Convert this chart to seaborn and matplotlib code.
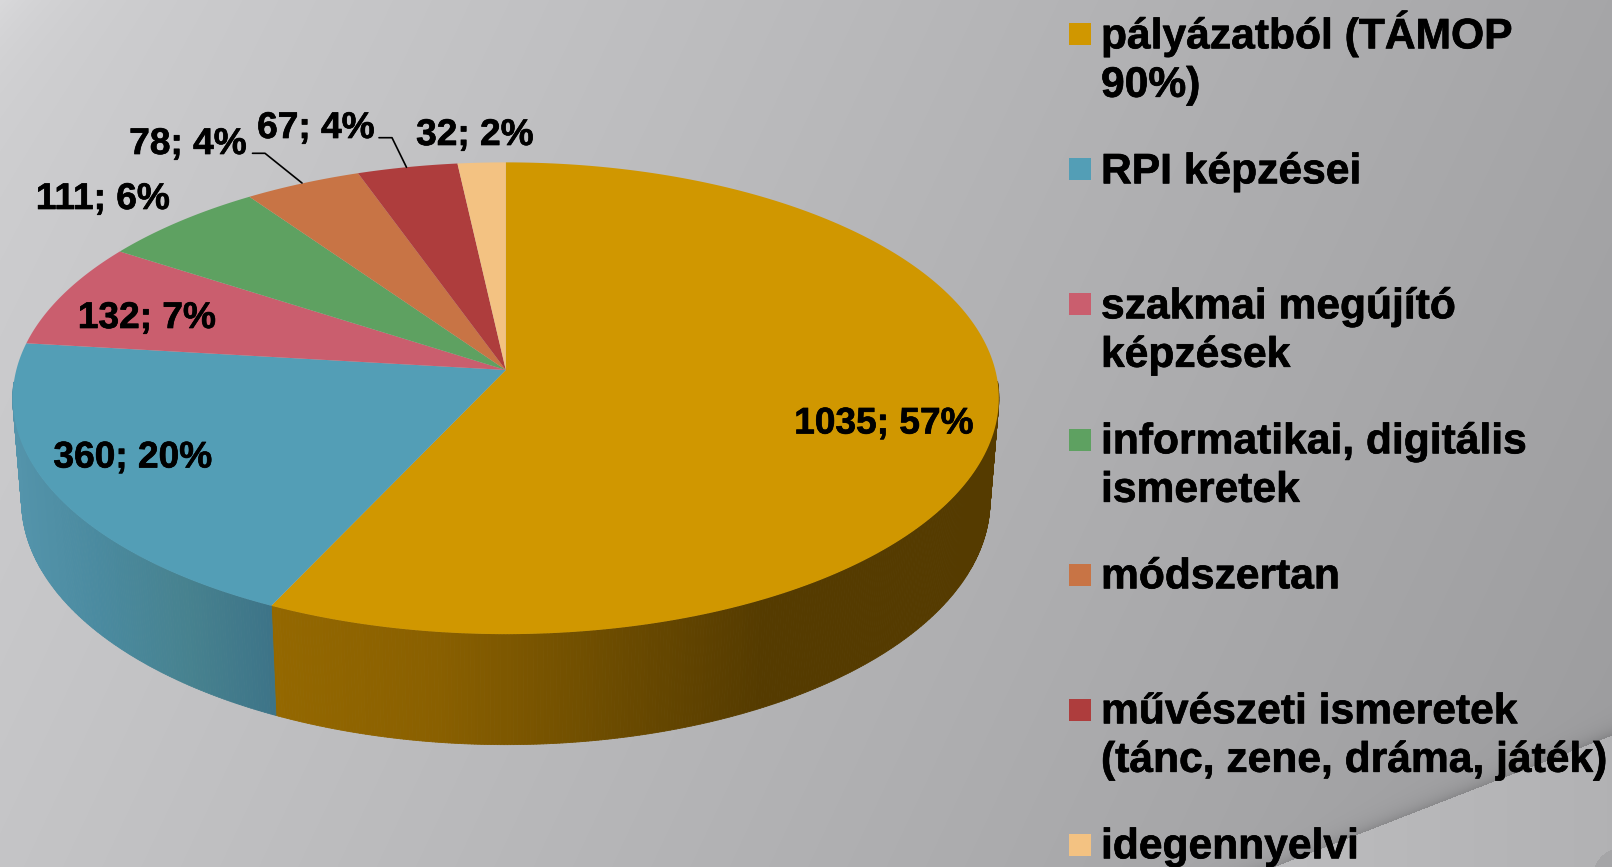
import numpy as np
import matplotlib
matplotlib.use("Agg")
import matplotlib.pyplot as plt
import matplotlib.patheffects as pe
import seaborn as sns
from matplotlib.collections import PolyCollection
from matplotlib.colors import LinearSegmentedColormap

categories = ["pályázatból (TÁMOP\n90%)", "RPI képzései", "szakmai megújító\nképzések",
              "informatikai, digitális\nismeretek", "módszertan",
              "művészeti ismeretek\n(tánc, zene, dráma, játék)", "idegennyelvi"]
values = [1035, 360, 132, 111, 78, 67, 32]
percents = [57, 20, 7, 6, 4, 4, 2]
colors = ["#D09700", "#539EB6", "#CA5E6E", "#5EA161", "#C87445", "#AE3D3D", "#F3C282"]

sns.set_theme(style="white")
plt.rcParams['font.family'] = ['Liberation Sans', 'DejaVu Sans']
palette = sns.color_palette(colors)

W, H = 1612, 867
fig = plt.figure(figsize=(W / 100, H / 100), dpi=100)
ax = fig.add_axes([0, 0, 1, 1])
ax.set_xlim(0, W)
ax.set_ylim(H, 0)
ax.axis("off")

# background
yy, xx = np.mgrid[0:H:1, 0:W:1]
g = 207 - .0255 * xx - .012 * yy + 10 * np.exp(-(xx + yy) / 60)
# lower-right fold
edge = 867 - (xx - 1273) * (132 / 339)
d = yy - edge
fold = 188 - .03 * np.clip(xx - 1273, 0, None)
g = np.where(d > 0, fold, g - 24 * np.exp(np.clip(d, -60, 0) / 8))
g = np.where((d > 0) & ((xx - 1625) ** 2 + (yy - 880) ** 2 < 34 ** 2), 165, g)
bg = np.dstack([g, g, g + 2]).clip(0, 255) / 255
ax.imshow(bg, extent=(0, W, H, 0), aspect="auto", interpolation="bilinear", zorder=0)

# perspective pie geometry
cx, cy = 505.8, 370.0
a, b, c, k, m = 489.5, 232.5, 104.0, .1198, -.018


def project(theta, r=1.0, z=0.0):
    u, v = r * np.sin(theta), r * np.cos(theta)
    den = 1 + k * v + m * z
    return cx + a * u / den, cy - (b * v + c * z) / den


fractions = np.array(values) / np.sum(values)
edges = np.concatenate([[0], np.cumsum(fractions)]) * 2 * np.pi

# side wall, shaded strip by strip
gold_side = LinearSegmentedColormap.from_list("g", ["#946800", "#8A6000", "#6E4D00", "#553B00", "#553B00"])
teal_side = LinearSegmentedColormap.from_list("t", ["#5494AB", "#4A8A9F", "#47828F", "#3D7488"])
strips, strip_colors = [], []
for i in range(len(values)):
    t0, t1 = edges[i], edges[i + 1]
    n = max(2, int((t1 - t0) / .006))
    th = np.linspace(t0, t1, n + 1)
    for p, q in zip(th[:-1], th[1:]):
        mid = (p + q) / 2
        if np.cos(mid) > -.05:
            continue
        strips.append([project(p), project(q), project(q, z=-1), project(p, z=-1)])
        xm = project(mid)[0]
        if i == 0:
            col = gold_side(np.clip((xm - 270) / (930 - 270), 0, 1))
        elif i == 1:
            col = teal_side(np.clip((xm - 12) / (270 - 12), 0, 1))
        else:
            col = tuple(np.array(palette[i]) * .75)
        strip_colors.append(col)
ax.add_collection(PolyCollection(strips, facecolors=strip_colors, edgecolors=strip_colors,
                                 linewidths=.6, zorder=2))

# top face
for i in range(len(values)):
    th = np.linspace(edges[i], edges[i + 1], 200)
    px, py = project(th)
    ax.fill(np.r_[cx, px], np.r_[cy, py], color=palette[i], lw=0, zorder=3)

stroke = [pe.withStroke(linewidth=.5, foreground="black")]

# data labels
label_pos = [(884, 424), (133, 458), (147, 318.5), (103, 199.5), (188, 144.5), (316, 128.5), (475, 135.5)]
for v, p, (lx, ly) in zip(values, percents, label_pos):
    ax.text(lx, ly, f"{v}; {p}%", ha="center", va="center", fontsize=26.7,
            fontweight="bold", color="black", zorder=5, path_effects=stroke)

# leader lines
ax.plot([252.5, 265, 302], [153.3, 153.3, 183], color="black", lw=1.2, zorder=4)
ax.plot([379, 392, 406.5], [137.7, 137.7, 167.3], color="black", lw=1.2, zorder=4)

# legend
marker_y = 34 + np.arange(len(categories)) * 135.2
baseline_y = 48.3 + np.arange(len(categories)) * 135.0
for name, col, my, by in zip(categories, palette, marker_y, baseline_y):
    ax.fill([1069, 1091, 1091, 1069], [my - 11, my - 11, my + 11, my + 11], color=col, lw=0, zorder=5)
    for j, line in enumerate(name.split("\n")):
        ax.text(1101, by + j * 48.5, line, ha="left", va="baseline", fontsize=30.65,
                fontweight="bold", color="black", zorder=5, path_effects=stroke)

fig.savefig("out.png", dpi=100)
